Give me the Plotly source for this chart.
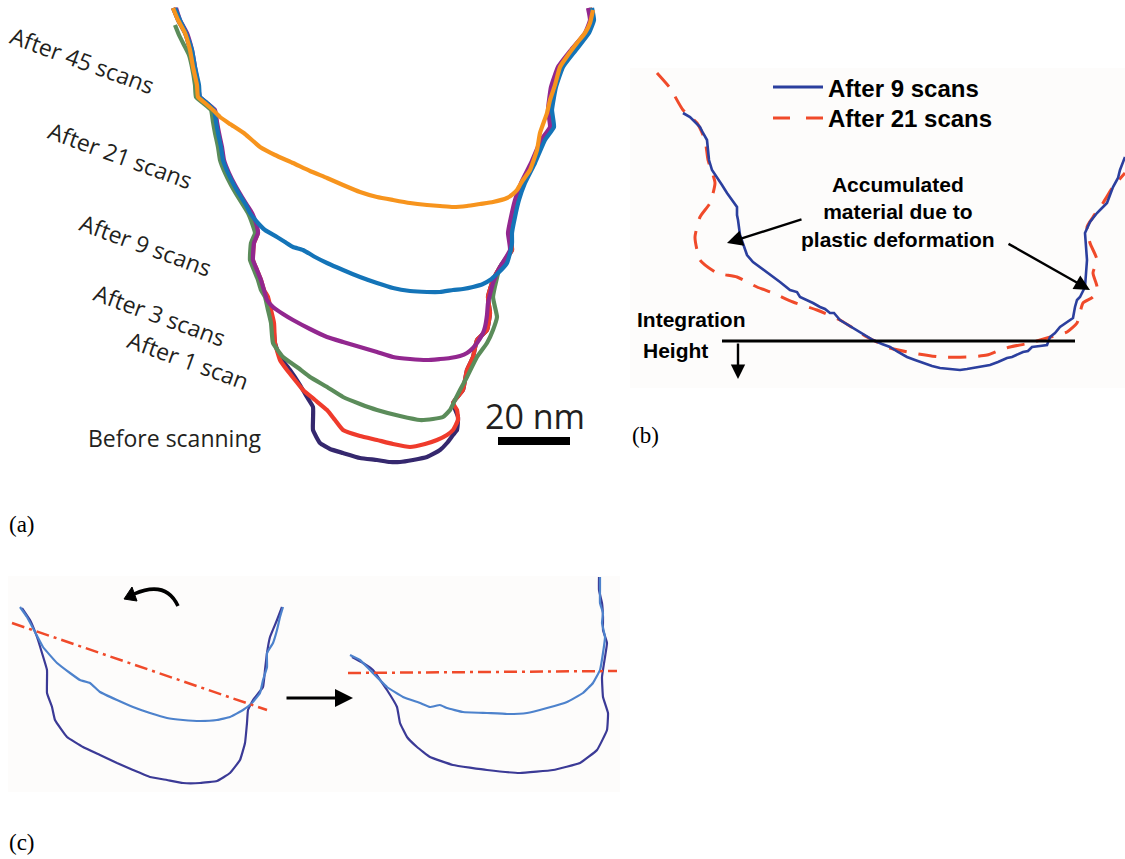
import plotly.graph_objects as go

W, H = 1125, 859

# ---------------- Panel (a): groove profiles (image-plane units, depth downward) ----------------
A45_X = [173,178,185,190,193,197,198,205,213,220,230,245,260,275,293,310,327,343,360,377,393,410,427,440,453,467,480,493,507,513,517,520,523,530,537,540,547,550,555,560,568,577,585,590,593]
A45_Y = [8,20,33,50,67,85,97,103,110,117,124,134,147,155,163,171,178,185,192,197,200,203,205,206,207,206,204,202,198,194,190,185,180,170,150,133,113,100,85,67,55,43,33,23,10]

A21_X = [175,180,186,192,195,199,200,207,214,216,218,221,223,228,234,241,246,250,257,265,277,285,293,303,315,327,343,360,377,393,410,427,440,453,463,473,483,490,497,503,507,510,512,512,515,519,525,535,545,554,552,556,563,576,589,594,592]
A21_Y = [8,20,33,50,67,85,97,103,110,122,133,147,160,173,185,197,205,213,222,230,237,242,247,250,257,263,270,277,283,288,291,292,292,290,289,287,284,280,274,268,263,253,243,233,217,200,183,163,140,127,110,87,67,50,33,20,8]

A9_X = [176,180,187,192,195,198,200,207,215,217,219,222,224,229,235,242,247,252,256,258,254,253,257,261,264,267,273,283,293,310,327,343,360,377,393,410,427,440,450,460,467,473,477,483,485,487,488,493,500,510,508,511,515,521,531,541,550,548,551,558,571,585,590,588]
A9_Y = [8,20,33,50,67,85,97,103,110,122,133,147,160,173,185,197,205,213,223,233,243,260,270,280,290,300,307,314,320,329,337,342,347,352,357,359,360,359,358,356,353,348,343,333,327,315,303,283,267,250,233,217,200,183,163,140,127,110,87,67,50,33,20,8]

A3_X = [175,179,184,189,192,195,196,203,211,213,215,218,220,225,231,238,243,248,252,255,251,250,254,258,261,265,268,271,273,283,297,310,327,343,360,377,400,420,433,443,450,455,460,467,477,487,493,497,493,500,511,509,512,516,522,532,542,551,549,552,559,572,586,591,589]
A3_Y = [25,35,45,55,67,85,97,103,110,122,133,147,160,173,185,197,205,213,223,233,243,260,270,280,290,297,310,323,343,357,367,377,387,397,404,410,416,420,419,417,410,400,390,377,357,343,330,317,297,267,250,233,217,200,183,163,140,127,110,87,67,50,33,20,8]

A1_X = [174,179,186,191,194,198,199,206,214,216,218,221,223,228,234,241,246,251,255,258,254,253,257,261,264,268,271,274,275,280,287,295,303,315,327,335,343,360,377,393,410,425,437,447,453,458,457,453,463,465,467,473,477,487,490,488,493,500,512,510,513,517,523,533,543,552,550,553,560,573,587,592,590]
A1_Y = [8,20,33,50,67,85,97,103,110,122,133,147,160,173,185,197,205,213,223,233,243,260,270,280,290,297,310,323,343,360,370,380,390,400,410,420,430,436,440,444,447,444,440,435,430,420,410,403,390,380,370,357,340,330,313,297,280,267,250,233,217,200,183,163,140,127,110,87,67,50,33,20,8]

A0_X = [173,178,185,190,193,197,198,205,213,215,217,220,222,227,233,240,245,250,254,257,253,252,256,260,263,267,270,273,275,280,290,300,307,313,313,313,320,330,343,360,377,390,400,413,427,440,447,453,457,458,453,463,465,467,473,477,487,490,488,493,500,512,510,513,517,523,533,543,552,550,553,560,573,587,592,590]
A0_Y = [8,20,33,50,67,85,97,103,110,122,133,147,160,173,185,197,205,213,223,233,243,260,270,280,290,297,310,323,343,357,370,385,397,407,420,430,443,449,453,458,460,462,462,460,457,450,443,435,430,417,403,390,380,370,357,340,330,313,297,280,267,250,233,217,200,183,163,140,127,110,87,67,50,33,20,8]

A_LABELS = ["After 45 scans", "After 21 scans", "After 9 scans", "After 3 scans", "After 1 scan", "Before scanning"]

# ---------------- Panel (b) ----------------
B9_X = [683,690,695,700,703,707,708,709,712,717,722,727,732,737,737,738,740,744,747,753,760,767,773,780,790,797,800,807,813,820,825,830,834,840,848,857,865,873,882,890,898,907,915,923,932,940,950,960,967,973,982,990,998,1007,1012,1023,1028,1032,1040,1047,1050,1055,1060,1068,1073,1075,1077,1080,1085,1087,1086,1085,1090,1097,1102,1107,1110,1113,1118,1120,1125]
B9_Y = [113,117,122,127,133,140,150,160,170,177,185,193,200,207,215,220,235,247,255,262,267,272,277,282,290,292,297,300,303,307,309,313,313,320,325,330,335,340,344,347,352,357,360,363,366,368,369,370,369,368,366,365,362,358,357,352,351,347,346,345,337,333,327,322,318,307,300,297,287,260,245,233,222,213,208,203,195,187,178,170,157]

B21_X = [657,670,683,697,705,708,712,715,710,700,695,697,700,717,737,757,773,793,817,840,867,890,913,940,967,987,1000,1010,1030,1047,1067,1077,1080,1083,1093,1097,1093,1097,1090,1087,1093,1103,1113,1125]
B21_Y = [73,88,110,123,140,160,172,183,203,217,237,250,260,273,277,287,293,302,310,320,337,348,353,357,357,355,350,347,343,338,332,323,313,303,297,287,273,260,243,227,217,203,187,173]

B_NAMES = ["After 9 scans", "After 21 scans"]

# ---------------- Panel (c) ----------------
C_TILT_TOP_X = [20,27,35,43,57,70,80,90,100,117,133,150,167,183,200,217,230,243,252,260,263,267,267,273,277,280,283]
C_TILT_TOP_Y = [607,617,632,647,663,673,680,683,692,700,707,713,718,720,721,720,717,710,703,693,680,667,653,643,630,617,607]
C_TILT_BOT_X = [22,30,37,42,47,47,52,55,67,83,100,117,133,150,167,183,200,217,230,240,245,247,248,253,263,265,267,270,277,282]
C_TILT_BOT_Y = [608,620,637,653,670,693,707,720,737,747,755,763,770,777,780,783,783,781,773,760,743,723,710,700,687,670,653,637,620,607]
C_LEVEL_TOP_X = [350,360,370,387,403,420,430,440,447,463,487,507,527,547,567,583,593,600,603,605,602,603,600,600,600]
C_LEVEL_TOP_Y = [655,660,670,687,697,703,707,705,708,712,713,714,713,708,702,693,683,670,653,637,623,613,603,590,577]
C_LEVEL_BOT_X = [352,363,373,387,397,400,407,417,430,453,487,520,553,580,597,607,608,603,602,605,607,603,603,602,599,599]
C_LEVEL_BOT_Y = [657,663,670,690,707,723,737,747,757,765,770,773,770,763,750,730,713,697,677,657,643,630,617,603,590,577]
C_TILT_REF_X = [12, 267]
C_TILT_REF_Y = [623, 710]
C_LEVEL_REF_X = [348, 617]
C_LEVEL_REF_Y = [673, 671]

# ---------------- colours ----------------
COL_A = {"45": "#f7941d", "21": "#1474b8", "9": "#92278f", "3": "#5b8c5a", "1": "#ef3b2c", "0": "#35286e"}
COL_B9 = "#2b3f9e"
COL_B21 = "#f04a2a"
COL_C_LIGHT = "#4d82cc"
COL_C_DARK = "#3b3a96"
TXT = "#231f20"

fig = go.Figure()

# panel (a)
for xs, ys, key, name in [(A0_X, A0_Y, "0", A_LABELS[5]), (A1_X, A1_Y, "1", A_LABELS[4]),
                          (A3_X, A3_Y, "3", A_LABELS[3]), (A9_X, A9_Y, "9", A_LABELS[2]),
                          (A21_X, A21_Y, "21", A_LABELS[1]), (A45_X, A45_Y, "45", A_LABELS[0])]:
    fig.add_trace(go.Scatter(x=xs, y=ys, mode="lines", name=name, showlegend=False,
                             line=dict(color=COL_A[key], width=4.2, shape="spline", smoothing=0.4),
                             xaxis="x", yaxis="y", hoverinfo="skip"))

# panel (b)
fig.add_trace(go.Scatter(x=B21_X, y=B21_Y, mode="lines", name=B_NAMES[1], showlegend=False,
                         line=dict(color=COL_B21, width=3, dash="18px,12px", shape="spline", smoothing=0.6),
                         xaxis="x2", yaxis="y2", hoverinfo="skip"))
fig.add_trace(go.Scatter(x=B9_X, y=B9_Y, mode="lines", name=B_NAMES[0], showlegend=False,
                         line=dict(color=COL_B9, width=2.6), xaxis="x2", yaxis="y2", hoverinfo="skip"))

# panel (c)
for xs, ys, col in [(C_TILT_BOT_X, C_TILT_BOT_Y, COL_C_DARK), (C_TILT_TOP_X, C_TILT_TOP_Y, COL_C_LIGHT),
                    (C_LEVEL_BOT_X, C_LEVEL_BOT_Y, COL_C_DARK), (C_LEVEL_TOP_X, C_LEVEL_TOP_Y, COL_C_LIGHT)]:
    fig.add_trace(go.Scatter(x=xs, y=ys, mode="lines", showlegend=False,
                             line=dict(color=col, width=2.2, shape="spline", smoothing=0.3),
                             xaxis="x3", yaxis="y3", hoverinfo="skip"))
for xs, ys in [(C_TILT_REF_X, C_TILT_REF_Y), (C_LEVEL_REF_X, C_LEVEL_REF_Y)]:
    fig.add_trace(go.Scatter(x=xs, y=ys, mode="lines", showlegend=False,
                             line=dict(color=COL_B21, width=2.5, dash="13px,5px,3px,5px"),
                             xaxis="x3", yaxis="y3", hoverinfo="skip"))


def ax(px0, px1, domain_total):
    return [px0 / domain_total, px1 / domain_total]


def yax(py0, py1):
    return [1 - py1 / H, 1 - py0 / H]


hidden = dict(visible=False, showgrid=False, zeroline=False, fixedrange=True)
fig.update_layout(
    width=W, height=H, margin=dict(l=0, r=0, t=0, b=0),
    paper_bgcolor="white", plot_bgcolor="rgba(0,0,0,0)",
    xaxis=dict(domain=ax(140, 620, W), range=[140, 620], **hidden),
    yaxis=dict(domain=yax(0, 480), range=[480, 0], **hidden),
    xaxis2=dict(domain=ax(630, 1125, W), range=[630, 1125], **hidden),
    yaxis2=dict(domain=yax(55, 395), range=[395, 55], **hidden),
    xaxis3=dict(domain=ax(0, 625, W), range=[0, 625], **hidden),
    yaxis3=dict(domain=yax(565, 805), range=[805, 565], **hidden),
)

shapes = []
ann = []

# very light panel backgrounds
shapes.append(dict(type="rect", xref="x2", yref="y2", x0=630, x1=1125, y0=68, y1=388,
                   fillcolor="#fdfcfb", line=dict(width=0), layer="below"))
shapes.append(dict(type="rect", xref="x3", yref="y3", x0=8, x1=620, y0=576, y1=792,
                   fillcolor="#fdfcfb", line=dict(width=0), layer="below"))

# panel (a) labels
lab_font = dict(family="Open Sans", size=23, color=TXT)
for txt, cx, cy, ang in [(A_LABELS[0], 82, 60, 20), (A_LABELS[1], 120, 155, 20), (A_LABELS[2], 146, 245, 20),
                         (A_LABELS[3], 160, 315, 20), (A_LABELS[4], 188, 360, 20), (A_LABELS[5], 175, 438, 0)]:
    ann.append(dict(text=txt, x=cx / W, y=1 - cy / H, xref="paper", yref="paper", showarrow=False,
                    textangle=ang, font=lab_font, xanchor="center", yanchor="middle"))

# scale bar
shapes.append(dict(type="rect", xref="x", yref="y", x0=498, x1=570, y0=437, y1=445,
                   fillcolor="black", line=dict(width=0)))
ann.append(dict(text="20 nm", x=535, y=416, xref="x", yref="y", showarrow=False,
                font=dict(family="Open Sans", size=34, color=TXT), xanchor="center", yanchor="middle"))

# panel (b) legend
shapes.append(dict(type="line", xref="x2", yref="y2", x0=773, x1=823, y0=87, y1=87,
                   line=dict(color=COL_B9, width=3)))
shapes.append(dict(type="line", xref="x2", yref="y2", x0=773, x1=823, y0=118, y1=118,
                   line=dict(color=COL_B21, width=3, dash="17px,16px")))
bfont = dict(family="Liberation Sans, Arial", size=24, color="black")
ann.append(dict(text="<b>After 9 scans</b>", x=826, y=88, xref="x2", yref="y2", showarrow=False,
                font=bfont, xanchor="left", yanchor="middle"))
ann.append(dict(text="<b>After 21 scans</b>", x=826, y=118, xref="x2", yref="y2", showarrow=False,
                font=bfont, xanchor="left", yanchor="middle"))

# panel (b) annotation text
afont = dict(family="Liberation Sans, Arial", size=21, color="black")
ann.append(dict(text="<b>Accumulated<br>material due to<br>plastic deformation</b>", x=898, y=212,
                xref="x2", yref="y2", showarrow=False, font=afont, align="center",
                xanchor="center", yanchor="middle"))
ann.append(dict(x=727, y=243, ax=803, ay=219, xref="x2", yref="y2", axref="x2", ayref="y2",
                text="", showarrow=True, arrowhead=2, arrowsize=1.3, arrowwidth=2.4, arrowcolor="black"))
ann.append(dict(x=1090, y=290, ax=1007, ay=243, xref="x2", yref="y2", axref="x2", ayref="y2",
                text="", showarrow=True, arrowhead=2, arrowsize=1.3, arrowwidth=2.4, arrowcolor="black"))

# integration height
shapes.append(dict(type="line", xref="x2", yref="y2", x0=722, x1=1075, y0=341, y1=341,
                   line=dict(color="black", width=3)))
ann.append(dict(x=738, y=379, ax=738, ay=342, xref="x2", yref="y2", axref="x2", ayref="y2",
                text="", showarrow=True, arrowhead=2, arrowsize=1.2, arrowwidth=2.4, arrowcolor="black"))
ann.append(dict(text="<b>Integration</b>", x=691, y=319, xref="x2", yref="y2", showarrow=False,
                font=afont, xanchor="center", yanchor="middle"))
ann.append(dict(text="<b>Height</b>", x=675, y=350, xref="x2", yref="y2", showarrow=False,
                font=afont, xanchor="center", yanchor="middle"))

# panel (c) arrows
shapes.append(dict(type="path", xref="x3", yref="y3", path="M 178,606 Q 166,580 134,594",
                   line=dict(color="black", width=3.5)))
shapes.append(dict(type="path", xref="x3", yref="y3", path="M 124,599 L 137,601 L 132,587 Z",
                   fillcolor="black", line=dict(color="black", width=1)))
ann.append(dict(x=353, y=698, ax=285, ay=698, xref="x3", yref="y3", axref="x3", ayref="y3",
                text="", showarrow=True, arrowhead=2, arrowsize=1.2, arrowwidth=3, arrowcolor="black"))

# panel letters
pfont = dict(family="Liberation Serif, Times New Roman", size=23, color="black")
for txt, px, py in [("(a)", 22, 524), ("(b)", 645, 435), ("(c)", 22, 842)]:
    ann.append(dict(text=txt, x=px / W, y=1 - py / H, xref="paper", yref="paper", showarrow=False,
                    font=pfont, xanchor="center", yanchor="middle"))

fig.update_layout(shapes=shapes, annotations=ann)
fig.write_html("out.html", config={"displayModeBar": False},
               post_script="document.body.style.margin='0';document.body.style.overflow='hidden';")
